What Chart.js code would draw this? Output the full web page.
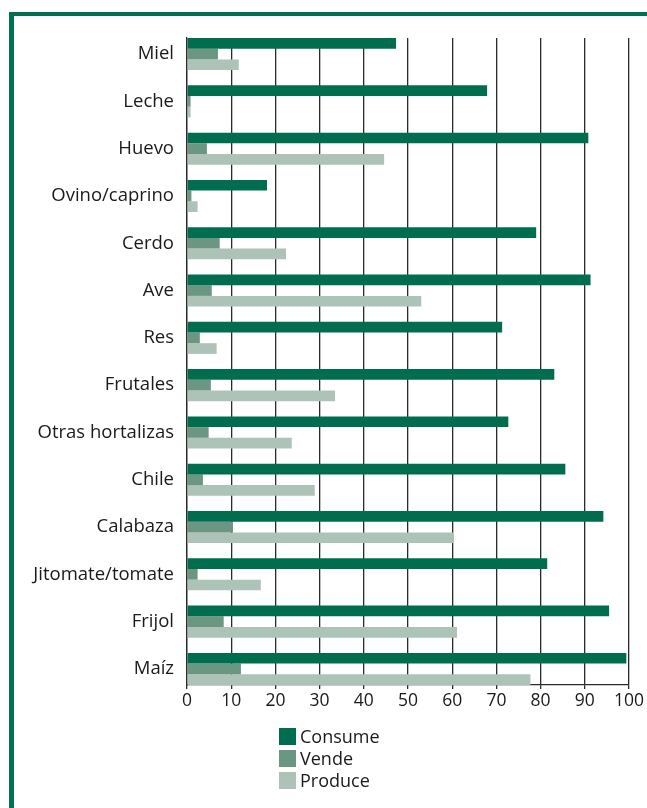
<!DOCTYPE html>
<html>
<head>
<meta charset="utf-8">
<script src="https://cdn.jsdelivr.net/npm/chart.js@4"></script>
<style>
  html, body { margin: 0; padding: 0; background: #fff; }
  body { width: 647px; height: 808px; position: relative; overflow: hidden; font-family: "Open Sans", sans-serif; }
  #frame { position: absolute; left: 9px; top: 12px; width: 700px; height: 900px; border-left: 5px solid #007050; border-top: 4px solid #007050; }
  #wrap { position: absolute; left: 0; top: 0; width: 647px; height: 808px; }
  #legend { position: absolute; left: 279px; top: 725px; font-size: 18px; color: #1a1a1a; }
  #legend .item { display: flex; align-items: center; height: 22px; }
  #legend .box { width: 17px; height: 17px; margin-right: 4px; }
</style>
</head>
<body>
<div id="frame"></div>
<div id="wrap"><canvas id="barChart"></canvas></div>
<div id="legend"></div>
<script>
const categories = ["Miel", "Leche", "Huevo", "Ovino/caprino", "Cerdo", "Ave", "Res", "Frutales",
  "Otras hortalizas", "Chile", "Calabaza", "Jitomate/tomate", "Frijol", "Maíz"];
const consume = [47.3, 67.9, 90.8, 18.1, 79.0, 91.3, 71.3, 83.1, 72.7, 85.6, 94.2, 81.5, 95.5, 99.4];
const vende = [7.0, 0.8, 4.5, 1.0, 7.4, 5.6, 2.9, 5.4, 4.9, 3.6, 10.4, 2.4, 8.3, 12.2];
const produce = [11.7, 0.8, 44.6, 2.4, 22.4, 53.0, 6.7, 33.5, 23.7, 28.9, 60.4, 16.7, 61.1, 77.7];
const xTicks = [0, 10, 20, 30, 40, 50, 60, 70, 80, 90, 100];

const toPoints = (arr) => arr.map((v, i) => ({ x: v, y: i }));

const ctx = document.getElementById("barChart");

const data = {
  datasets: [
    { label: "Consume", data: toPoints(consume), backgroundColor: "#006e4e" },
    { label: "Vende", data: toPoints(vende), backgroundColor: "#6b9782" },
    { label: "Produce", data: toPoints(produce), backgroundColor: "#adc3b7" },
  ],
};

const config = {
  type: "bar",
  data: data,
  options: {
    indexAxis: "y",
    responsive: false,
    animation: false,
    categoryPercentage: 0.678,
    barPercentage: 1.0,
    layout: { padding: { top: 38, right: 18, bottom: 93, left: 0 } },
    plugins: { legend: { display: false }, tooltip: { enabled: false } },
    scales: {
      x: {
        type: "linear",
        min: 0,
        max: 100,
        afterBuildTicks: (scale) => { scale.ticks = xTicks.map((v) => ({ value: v })); },
        afterFit: (scale) => { scale.height = 30; },
        grid: { color: "#2a2a2a", lineWidth: 1.3, drawTicks: true, tickLength: 4, tickColor: "#2a2a2a" },
        border: { color: "#2a2a2a", width: 1.3 },
        ticks: { color: "#1a1a1a", padding: 2, font: { family: "Open Sans", size: 17.5 } },
      },
      y: {
        type: "linear",
        reverse: true,
        offset: false,
        min: -0.34,
        max: 13.34,
        afterBuildTicks: (scale) => { scale.ticks = categories.map((_, i) => ({ value: i })); },
        afterFit: (scale) => { scale.width = 187; },
        grid: { display: false, drawTicks: false, offset: false },
        border: { color: "#2a2a2a", width: 1.3 },
        ticks: {
          color: "#1a1a1a",
          padding: 13,
          autoSkip: false,
          font: { family: "Open Sans", size: 18.5 },
          callback: (v) => categories[v],
        },
      },
    },
  },
};

ctx.width = 647;
ctx.height = 808;
const chart = new Chart(ctx, config);

const legend = document.getElementById("legend");
chart.data.datasets.forEach((ds) => {
  const item = document.createElement("div");
  item.className = "item";
  const box = document.createElement("span");
  box.className = "box";
  box.style.background = ds.backgroundColor;
  const txt = document.createElement("span");
  txt.textContent = ds.label;
  item.appendChild(box);
  item.appendChild(txt);
  legend.appendChild(item);
});
</script>
</body>
</html>
